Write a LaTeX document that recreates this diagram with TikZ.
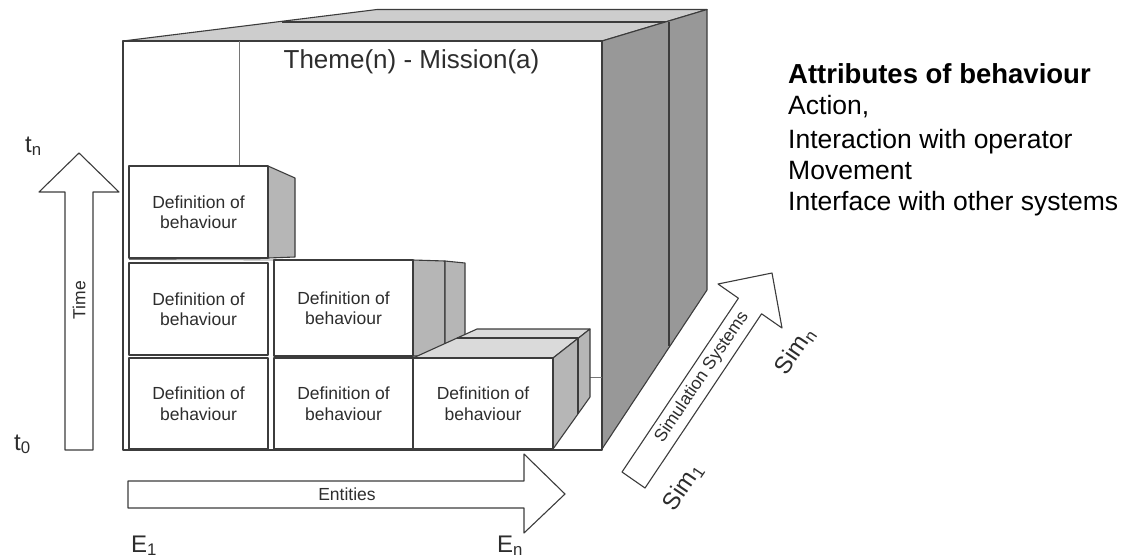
\documentclass[tikz,border=0pt]{standalone}
\usepackage{fontspec}
\setmainfont{Liberation Sans}
\definecolor{edgec}{RGB}{60,60,60}
\definecolor{topgray}{RGB}{205,205,205}
\definecolor{sidegray}{RGB}{152,152,152}
\definecolor{boxside}{RGB}{182,182,182}
\definecolor{boxtop}{RGB}{218,218,218}
\definecolor{txt}{RGB}{45,45,45}
\begin{document}
\begin{tikzpicture}[x=1pt,y=-1pt,line join=round,
  ln/.style={draw=edgec,line width=1.1pt},
  thinln/.style={draw=edgec!70,line width=0.8pt},
  boxfront/.style={ln,fill=white},
  boxtext/.style={align=center,text=txt,font=\fontsize{17.5}{20.5}\selectfont},
  arrowlabel/.style={text=txt,font=\fontsize{17.5}{20}\selectfont,inner sep=0pt},
  axislabel/.style={text=txt,font=\fontsize{24}{26}\selectfont,inner sep=0pt},
  attr/.style={anchor=base west,text=black,font=\fontsize{26.5}{28}\selectfont,inner sep=0pt},
  arrowshape/.style={ln,fill=white}]
\useasboundingbox (0,0) rectangle (1126,558);

% ---- big cube ----
\filldraw[ln,fill=topgray] (123,41) -- (377,9.5) -- (707,9.5) -- (602,41) -- cycle;
\draw[ln] (282,22) -- (669,22);
\filldraw[ln,fill=sidegray] (602,41) -- (707,9.5) -- (707,290) -- (602,449) -- cycle;
\draw[ln] (669,22) -- (669,346);
\filldraw[ln,fill=white] (123,41) rectangle (602,450);
\draw[thinln] (239,41) -- (239,166);
\draw[thinln] (590,377) -- (602,377);
\node[text=txt,font=\fontsize{26}{28}\selectfont,anchor=base] (title) at (411.5,68.5) {Theme(n) - Mission(a)};

% ---- row 3 ----
\filldraw[ln,fill=boxside] (268,166) -- (295,178) -- (295,257) -- (268,258) -- cycle;
\draw[thinln] (129,259.5) -- (297,260);
\filldraw[boxfront] (129,166) rectangle (268,258);
\node[boxtext] (b31) at (198.5,212) {Definition of\\behaviour};

% ---- row 2 ----
\filldraw[boxfront] (129,263) rectangle (268,355);
\node[boxtext] (b21) at (198.5,309) {Definition of\\behaviour};
\filldraw[ln,fill=boxside] (413,260) -- (445,261) -- (445,356) -- (413,356) -- cycle;
\filldraw[ln,fill=boxside] (445,261) -- (465,263) -- (465,356) -- (445,356) -- cycle;
\filldraw[boxfront] (274,260) rectangle (413,356);
\node[boxtext] (b22) at (343.5,308) {Definition of\\behaviour};

% ---- row 1 ----
\filldraw[boxfront] (129,358) rectangle (268,449);
\node[boxtext] (b11) at (198.5,403.5) {Definition of\\behaviour};
\filldraw[boxfront] (274,358) rectangle (413,449);
\node[boxtext] (b12) at (343.5,403.5) {Definition of\\behaviour};
\filldraw[ln,fill=boxtop] (413,358) -- (477,329) -- (590,329) -- (553,358) -- cycle;
\draw[ln] (457,338) -- (578,338);
\filldraw[ln,fill=boxside] (553,358) -- (590,329) -- (590,397) -- (553,449) -- cycle;
\draw[ln] (578,338) -- (578,414);
\filldraw[boxfront] (413,358) rectangle (553,449);
\node[boxtext] (b13) at (483,403.5) {Definition of\\behaviour};

% ---- time arrow ----
\filldraw[arrowshape] (65,450) -- (65,192) -- (39,192) -- (79,153) -- (119,192) -- (93,192) -- (93,450) -- cycle;
\node[arrowlabel,rotate=90] (time) at (79,300) {Time};
\node[axislabel,anchor=base west] (tn) at (25,152) {t\textsubscript{n}};
\node[axislabel,anchor=base west] (t0) at (14,450) {t\textsubscript{0}};

% ---- entities arrow ----
\filldraw[arrowshape] (128,481) -- (524,481) -- (524,454) -- (565,494) -- (524,533) -- (524,508) -- (128,508) -- cycle;
\node[arrowlabel] (ent) at (347,494.5) {Entities};
\node[axislabel,anchor=base west] (e1) at (131,552) {E\textsubscript{1}};
\node[axislabel,anchor=base west] (en) at (497,552) {E\textsubscript{n}};

% ---- simulation systems arrow ----
\filldraw[arrowshape] (622,472) -- (738.4,298.2) -- (718,284) -- (772,273) -- (782,328) -- (761.6,313.8) -- (645,488) -- cycle;
\node[arrowlabel,rotate=56] (sim) at (702,377) {Simulation Systems};
\node[axislabel,rotate=56] (sim1) at (683,487) {Sim\textsubscript{1}};
\node[axislabel,rotate=56] (simn) at (795,351) {Sim\textsubscript{n}};

% ---- attributes ----
\node[attr,font=\fontsize{27.5}{29}\selectfont\bfseries] (a0) at (788,83) {Attributes of behaviour};
\node[attr] (a1) at (788,114) {Action,};
\node[attr] (a2) at (788,148) {Interaction with operator};
\node[attr] (a3) at (788,179) {Movement};
\node[attr] (a4) at (788,210) {Interface with other systems};
\end{tikzpicture}
\end{document}
